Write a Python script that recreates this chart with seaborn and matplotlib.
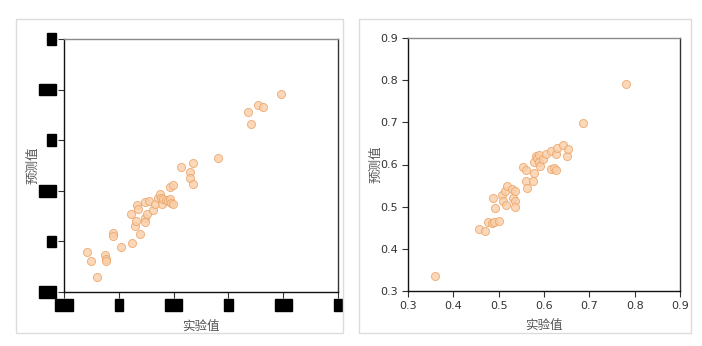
import matplotlib
matplotlib.use("Agg")
import matplotlib.pyplot as plt
import seaborn as sns
import pandas as pd
from matplotlib.patches import Rectangle

# ---- data: left panel (tick labels redacted in the reference) ----
left_x = [0.710, 0.750, 0.805, 0.872, 0.881, 0.887, 0.951, 0.951, 1.018, 1.110,
          1.119, 1.146, 1.159, 1.168, 1.171, 1.189, 1.238, 1.241, 1.241, 1.256,
          1.280, 1.308, 1.332, 1.354, 1.375, 1.387, 1.396, 1.405, 1.427, 1.445,
          1.466, 1.473, 1.466, 1.497, 1.497, 1.570, 1.646, 1.649, 1.677, 1.677,
          1.909, 2.177, 2.207, 2.271, 2.320, 2.482]
left_y = [0.898, 0.809, 0.651, 0.868, 0.826, 0.809, 1.082, 1.053, 0.947, 1.266,
          0.984, 1.155, 1.197, 1.359, 1.322, 1.076, 1.391, 1.234, 1.191, 1.270,
          1.398, 1.309, 1.365, 1.431, 1.470, 1.431, 1.368, 1.418, 1.411, 1.395,
          1.421, 1.378, 1.539, 1.556, 1.365, 1.734, 1.684, 1.622, 1.770, 1.566,
          1.822, 2.283, 2.158, 2.349, 2.326, 2.454]
left_ticks = [0.5, 1.0, 1.5, 2.0, 2.5, 3.0]
left_ticklabels = ["0.5", "1", "1.5", "2", "2.5", "3"]

# ---- data: right panel ----
right_x = [0.360, 0.457, 0.469, 0.477, 0.486, 0.490, 0.500, 0.488, 0.493, 0.508,
           0.510, 0.514, 0.516, 0.518, 0.529, 0.532, 0.536, 0.535, 0.535, 0.554,
           0.561, 0.560, 0.562, 0.576, 0.577, 0.577, 0.583, 0.585, 0.589, 0.590,
           0.591, 0.597, 0.604, 0.615, 0.615, 0.623, 0.627, 0.627, 0.629, 0.643,
           0.651, 0.653, 0.685, 0.781]
right_y = [0.335, 0.447, 0.443, 0.464, 0.462, 0.464, 0.466, 0.521, 0.498, 0.528,
           0.514, 0.536, 0.505, 0.550, 0.543, 0.521, 0.537, 0.513, 0.500, 0.595,
           0.586, 0.562, 0.544, 0.562, 0.581, 0.607, 0.620, 0.615, 0.622, 0.607,
           0.597, 0.613, 0.626, 0.633, 0.589, 0.592, 0.586, 0.625, 0.639, 0.647,
           0.621, 0.636, 0.698, 0.792]
right_ticks = [0.3, 0.4, 0.5, 0.6, 0.7, 0.8, 0.9]
right_ticklabels = ["0.3", "0.4", "0.5", "0.6", "0.7", "0.8", "0.9"]

xlabel = "实验值"
ylabel = "预测值"

sns.set_style("white")
plt.rcParams['font.family'] = ['Noto Sans CJK SC', 'DejaVu Sans']

fig = plt.figure(figsize=(7.02, 3.46), dpi=100)
W, H = 702, 346

def fbox(x0, y0, x1, y1):
    return [x0 / W, 1 - y1 / H, (x1 - x0) / W, (y1 - y0) / H]

# panel frames
for (x0, y0, x1, y1) in [(16, 19, 343, 333), (359, 19, 691, 333)]:
    fig.patches.append(Rectangle((x0 / W, 1 - y1 / H), (x1 - x0) / W, (y1 - y0) / H,
                                 transform=fig.transFigure, fill=False,
                                 edgecolor="#dcdcdc", linewidth=1.0))

axL = fig.add_axes(fbox(64, 39, 338, 292))
axR = fig.add_axes(fbox(408, 38, 680, 291))

marker_kw = dict(s=34, color="#f9cfa8", edgecolor="#eca468", linewidth=0.7, alpha=0.8)

dfL = pd.DataFrame({"x": left_x, "y": left_y})
dfR = pd.DataFrame({"x": right_x, "y": right_y})
sns.scatterplot(data=dfL, x="x", y="y", ax=axL, **marker_kw)
sns.scatterplot(data=dfR, x="x", y="y", ax=axR, **marker_kw)

for ax in (axL, axR):
    ax.spines["left"].set_color("#111111")
    ax.spines["bottom"].set_color("#111111")
    ax.spines["right"].set_color("#333333")
    ax.spines["top"].set_color("#8a8a8a")
    for s in ax.spines.values():
        s.set_linewidth(1.0)
    ax.tick_params(axis="both", which="both", direction="out", length=4, width=0.8,
                   color="#333333", bottom=True, left=True, top=False, right=False,
                   pad=3)

axL.set_xlim(0.5, 3.0)
axL.set_ylim(0.5, 3.0)
axL.set_xticks(left_ticks)
axL.set_yticks(left_ticks)
axL.set_xticklabels([])
axL.set_yticklabels([])
# redacted tick labels: real text covered by black boxes
for t, lab in zip(left_ticks, left_ticklabels):
    axL.annotate(lab, xy=(t, 0), xycoords=("data", "axes fraction"),
                 xytext=(0, -6), textcoords="offset points", ha="center", va="top",
                 fontsize=6.5, color="black", family="DejaVu Sans",
                 bbox=dict(boxstyle="square,pad=0.15", fc="black", ec="black"))
    axL.annotate(lab, xy=(0, t), xycoords=("axes fraction", "data"),
                 xytext=(-7, 0), textcoords="offset points", ha="right", va="center",
                 fontsize=6.5, color="black", family="DejaVu Sans",
                 bbox=dict(boxstyle="square,pad=0.15", fc="black", ec="black"))

axR.set_xlim(0.3, 0.9)
axR.set_ylim(0.3, 0.9)
axR.set_xticks(right_ticks)
axR.set_yticks(right_ticks)
axR.set_xticklabels(right_ticklabels, fontsize=8, color="#333333", family="DejaVu Sans")
axR.set_yticklabels(right_ticklabels, fontsize=8, color="#333333", family="DejaVu Sans")

for ax in (axL, axR):
    ax.set_xlabel(xlabel, fontsize=9, color="#555555")
    ax.set_ylabel(ylabel, fontsize=9, color="#555555")

axL.xaxis.set_label_coords(0.5, -0.11)
axL.yaxis.set_label_coords(-0.091, 0.5)
axR.xaxis.set_label_coords(0.5, -0.11)
axR.yaxis.set_label_coords(-0.095, 0.5)

fig.savefig("out.png", dpi=100, facecolor="white")
